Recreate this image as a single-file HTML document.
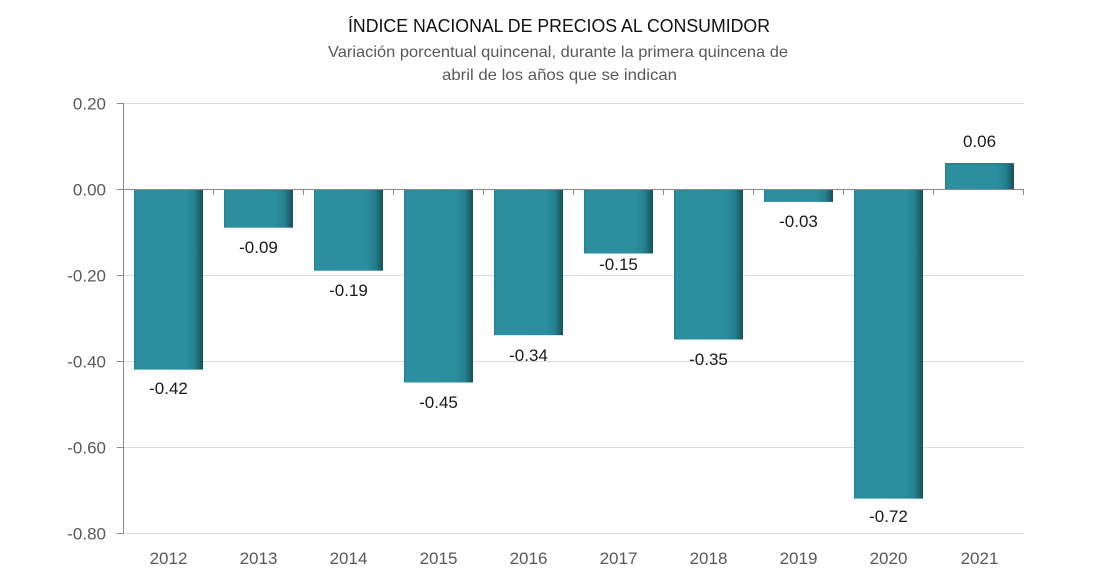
<!DOCTYPE html>
<html><head><meta charset="utf-8"><style>
html,body{margin:0;padding:0;background:#fff;}
svg{display:block;}
text{font-family:"Liberation Sans",sans-serif;}
</style></head><body>
<svg width="1100" height="580" viewBox="0 0 1100 580" xmlns="http://www.w3.org/2000/svg">
<defs>
<linearGradient id="bh" x1="0" y1="0" x2="1" y2="0">
<stop offset="0" stop-color="#237f8f"/>
<stop offset="0.03" stop-color="#2c8fa0"/>
<stop offset="0.75" stop-color="#2b8e9e"/>
<stop offset="0.88" stop-color="#25808f"/>
<stop offset="1" stop-color="#17505b"/>
</linearGradient>
</defs>
<rect width="1100" height="580" fill="#fff"/>
<text x="559" y="32" text-anchor="middle" font-size="18" fill="#111" textLength="422" lengthAdjust="spacingAndGlyphs">ÍNDICE NACIONAL DE PRECIOS AL CONSUMIDOR</text>
<text x="558" y="57" text-anchor="middle" font-size="16" fill="#595959" textLength="460" lengthAdjust="spacingAndGlyphs">Variación porcentual quincenal, durante la primera quincena de</text>
<text x="559.5" y="80" text-anchor="middle" font-size="16" fill="#595959" textLength="235" lengthAdjust="spacingAndGlyphs">abril de los años que se indican</text>
<g stroke="#dcdcdc" stroke-width="1">
<line x1="123" y1="103.5" x2="1024" y2="103.5"/>
<line x1="123" y1="275.5" x2="1024" y2="275.5"/>
<line x1="123" y1="361.5" x2="1024" y2="361.5"/>
<line x1="123" y1="447.5" x2="1024" y2="447.5"/>
<line x1="123" y1="533.5" x2="1024" y2="533.5"/>
</g>
<g>
<rect x="134" y="189" width="69" height="180.6" fill="url(#bh)"/>
<rect x="224" y="189" width="69" height="38.7" fill="url(#bh)"/>
<rect x="314" y="189" width="69" height="81.7" fill="url(#bh)"/>
<rect x="404" y="189" width="69" height="193.5" fill="url(#bh)"/>
<rect x="494" y="189" width="69" height="146.2" fill="url(#bh)"/>
<rect x="584" y="189" width="69" height="64.5" fill="url(#bh)"/>
<rect x="674" y="189" width="69" height="150.5" fill="url(#bh)"/>
<rect x="764" y="189" width="69" height="12.9" fill="url(#bh)"/>
<rect x="854" y="189" width="69" height="309.6" fill="url(#bh)"/>
<rect x="945" y="163.2" width="69" height="25.8" fill="url(#bh)"/>
<line x1="945" y1="163.7" x2="1014" y2="163.7" stroke="#1d6470" stroke-width="1"/>
</g>
<g stroke="#8a8a8a" stroke-width="1">
<line x1="123.5" y1="103" x2="123.5" y2="534"/>
<line x1="117" y1="103.5" x2="123" y2="103.5"/>
<line x1="117" y1="189.5" x2="1024" y2="189.5"/>
<line x1="117" y1="275.5" x2="123" y2="275.5"/>
<line x1="117" y1="361.5" x2="123" y2="361.5"/>
<line x1="117" y1="447.5" x2="123" y2="447.5"/>
<line x1="117" y1="533.5" x2="123" y2="533.5"/>
<line x1="213.5" y1="189" x2="213.5" y2="195"/>
<line x1="303.5" y1="189" x2="303.5" y2="195"/>
<line x1="393.5" y1="189" x2="393.5" y2="195"/>
<line x1="483.5" y1="189" x2="483.5" y2="195"/>
<line x1="573.5" y1="189" x2="573.5" y2="195"/>
<line x1="663.5" y1="189" x2="663.5" y2="195"/>
<line x1="753.5" y1="189" x2="753.5" y2="195"/>
<line x1="843.5" y1="189" x2="843.5" y2="195"/>
<line x1="933.5" y1="189" x2="933.5" y2="195"/>
<line x1="1023.5" y1="189" x2="1023.5" y2="195"/>
</g>
<g font-size="17" fill="#595959" text-anchor="end">
<text x="106" y="109.5">0.20</text>
<text x="106" y="195.5">0.00</text>
<text x="106" y="281.5">-0.20</text>
<text x="106" y="367.5">-0.40</text>
<text x="106" y="453.5">-0.60</text>
<text x="106" y="539.5">-0.80</text>
</g>
<g font-size="17" fill="#595959" text-anchor="middle">
<text x="168.5" y="564">2012</text>
<text x="258.5" y="564">2013</text>
<text x="348.5" y="564">2014</text>
<text x="438.5" y="564">2015</text>
<text x="528.5" y="564">2016</text>
<text x="618.5" y="564">2017</text>
<text x="708.5" y="564">2018</text>
<text x="798.5" y="564">2019</text>
<text x="888.5" y="564">2020</text>
<text x="979.5" y="564">2021</text>
</g>
<g font-size="17" fill="#1a1a1a" text-anchor="middle">
<text x="168.5" y="394">-0.42</text>
<text x="258.5" y="253">-0.09</text>
<text x="348.5" y="296">-0.19</text>
<text x="438.5" y="408">-0.45</text>
<text x="528.5" y="361">-0.34</text>
<text x="618.5" y="270">-0.15</text>
<text x="708.5" y="365">-0.35</text>
<text x="798.5" y="227">-0.03</text>
<text x="888.5" y="522">-0.72</text>
<text x="979.5" y="147">0.06</text>
</g>
</svg>
</body></html>
